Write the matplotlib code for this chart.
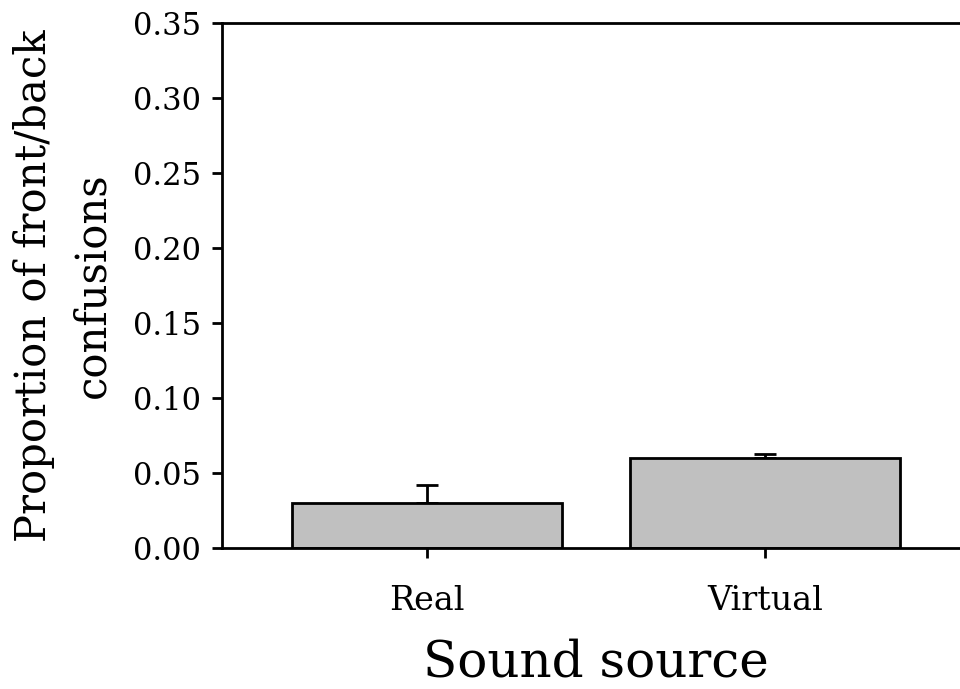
import matplotlib.pyplot as plt

sources = ["Real", "Virtual"]
proportions = [0.030, 0.060]
errors_up = [0.012, 0.003]
y_ticks = [0.00, 0.05, 0.10, 0.15, 0.20, 0.25, 0.30, 0.35]

plt.rcParams['font.family'] = ['DejaVu Serif']

fig = plt.figure(figsize=(9.6, 6.89), dpi=100)
# axes run slightly past the right edge of the figure
ax = fig.add_axes([222 / 960, 1 - 548 / 689, 748 / 960, 525 / 689])

x = list(range(len(sources)))
ax.bar(x, proportions, width=0.8, color="#c0c0c0", edgecolor="black",
       linewidth=2, zorder=2)
ax.errorbar(x, proportions, yerr=[[0, 0], errors_up], fmt="none",
            ecolor="black", elinewidth=2, capsize=8, capthick=2, zorder=1)

ax.set_xlim(-0.606, 1.606)
ax.set_ylim(0, 0.35)
ax.set_yticks(y_ticks)
ax.set_yticklabels([f"{v:.2f}" for v in y_ticks])
ax.set_xticks(x)
ax.set_xticklabels(sources)

for side in ["left", "top", "bottom"]:
    ax.spines[side].set_linewidth(2)
ax.spines["right"].set_visible(False)

ax.tick_params(axis="both", direction="out", width=2, length=7)
ax.tick_params(axis="y", labelsize=22, pad=8)
ax.tick_params(axis="x", labelsize=24, pad=20)

ax.set_xlabel("Sound source", fontsize=36, labelpad=15)
ax.set_ylabel("Proportion of front/back\nconfusions", fontsize=30,
              labelpad=14, linespacing=1.5)

fig.savefig("out.png", dpi=100)
